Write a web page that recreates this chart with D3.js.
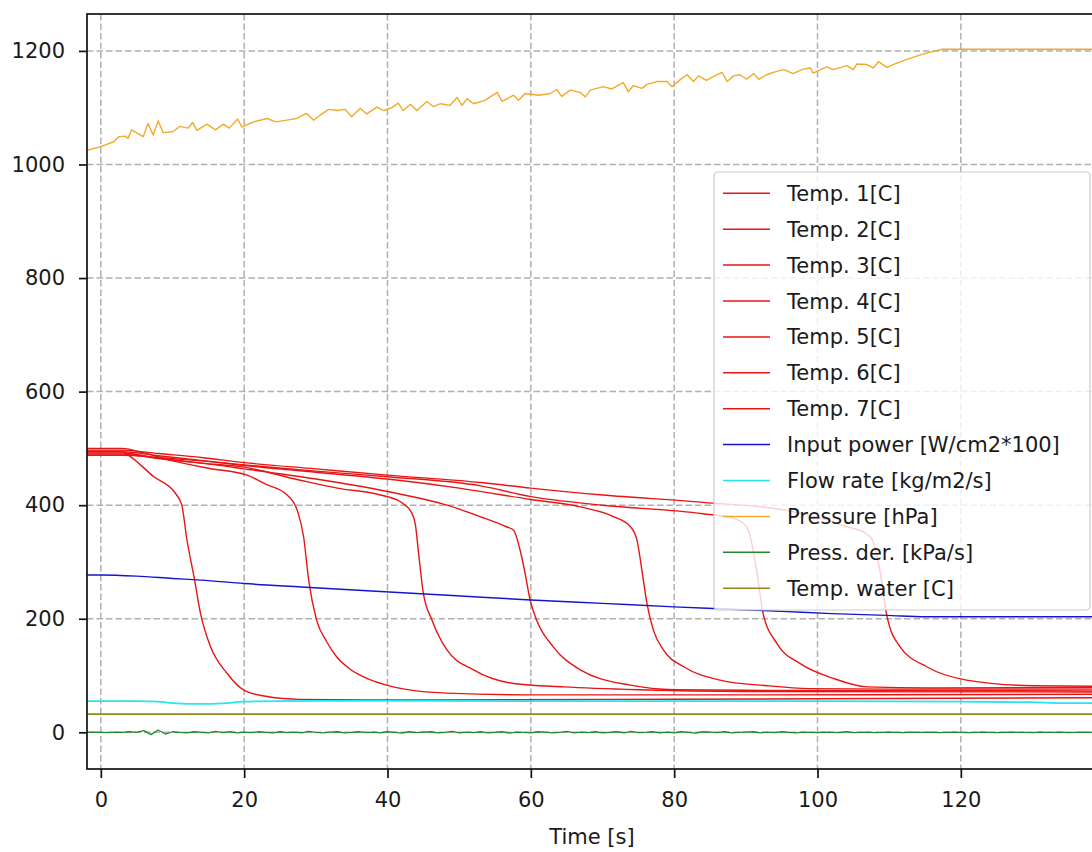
<!DOCTYPE html>
<meta charset="utf-8">
<style>
  body { margin: 0; background: #fff; }
  svg { display: block; font-family: "DejaVu Sans", sans-serif; }
</style>
<svg width="1092" height="852"></svg>
<script src="https://cdn.jsdelivr.net/npm/d3@7"></script>
<script>

// tick values
var xTicks = [0, 20, 40, 60, 80, 100, 120];
var yTicks = [0, 200, 400, 600, 800, 1000, 1200];

// legend labels and colours, in plotting order
var seriesNames = ["Temp. 1[C]", "Temp. 2[C]", "Temp. 3[C]", "Temp. 4[C]", "Temp. 5[C]", "Temp. 6[C]", "Temp. 7[C]",
  "Input power [W/cm2*100]", "Flow rate [kg/m2/s]", "Pressure [hPa]", "Press. der. [kPa/s]", "Temp. water [C]"];
var seriesColors = ["#e81515", "#e81515", "#e81515", "#e81515", "#e81515", "#e81515", "#e81515",
  "#1515d0", "#22e6f0", "#f2aa2a", "#1f8a2a", "#8a8a1a"];

// temperatures [time s, value]
var temp1 = [[-1.9,495],[3,495],[4.1,486],[7.4,450],[10.4,421],[11.3,400],[12,340],[13,274],[13.9,210],[15.3,151],[17.6,104],[20,74],[23.2,63],[27.8,58],[40,57],[70,58],[100,59],[139,61]];
var temp2 = [[-1.9,500],[3,500],[6,492],[10,478],[15,465],[20.4,453],[23,437],[26,418],[27.4,391],[28.3,344],[29,268],[30.1,198],[31.5,160],[32.9,133],[34.7,112],[36.6,98],[40.8,80],[44,73],[48.3,69],[60,66],[90,66],[139,67]];
var temp3 = [[-1.9,492],[3,492],[8,483],[14,474],[20,467],[27.8,444],[33,430],[39,418],[41.8,406],[43.4,386],[43.9,365],[44.3,320],[45,245],[46.2,198],[48.3,145],[52,110],[57.6,86],[64.6,80],[75,75],[90,72],[139,71]];
var temp4 = [[-1.9,490],[3,490],[8,482],[14,474],[20,464],[30,446],[40,424],[48.3,400],[52.9,380],[56.6,362],[57.6,356],[58.5,321],[59.2,280],[59.9,233],[60.8,198],[63.1,151],[66.9,110],[73.9,83],[80,75],[90,74],[139,73]];
var temp5 = [[-1.9,494],[3,494],[8,487],[14,479],[20,470],[30,458],[40,446],[50,430],[60,410],[66.9,397],[71.5,380],[73.9,362],[74.8,339],[75.7,268],[76.2,227],[77.1,180],[78.5,145],[81.4,115],[86.4,92],[93,82],[98.9,77],[110,76],[139,76]];
var temp6 = [[-1.9,488],[3,488],[8,484],[14,478],[20,471],[30,460],[40,450],[53,434],[60,415],[70,400],[84,385],[88.3,377],[90.1,362],[90.6,345],[91.5,286],[92.4,210],[94.3,157],[97.6,121],[102.2,95],[106.9,80],[115.6,78],[139,79]];
var temp7 = [[-1.9,497],[3,497],[8,491],[14,484],[20,475],[30,464],[40,453],[53,440],[60,430],[70,418],[84,405],[96,390],[101,375],[104.1,362],[106.5,352],[107.6,340],[108.7,286],[109.7,204],[111.5,151],[115.3,115],[120.8,92],[130,82],[139,81]];

var inputPower = [[-1.9,277],[0,277],[5,275],[10,271],[14,268],[20,262],[28,256],[39,248],[49,241],[60,233],[70,227],[80,221],[85.5,218],[95,213],[102,209],[109.7,206],[115,203.5],[139,203.5]];
var flowRate = [[-1.9,55],[5,55],[8,54],[10,51.5],[14,50],[17,51],[20,54],[25,55],[40,55.5],[60,55],[80,55],[100,55],[120,54],[130,53],[134,51.5],[139,51.5]];
var pressure = [[-1.9,1025],[-0.1,1031],[1.8,1040],[2.5,1049],[3.4,1050],[3.8,1046],[4.3,1061],[5.9,1049],[6.6,1072],[7.3,1052],[8.0,1077],[8.7,1056],[10.1,1058],[11,1067],[12.2,1064],[12.8,1074],[13.4,1060],[14.8,1071],[16,1061],[17.1,1071],[17.9,1064],[19.1,1080],[19.7,1066],[21.3,1075],[23.2,1081],[24.4,1075],[26.4,1079],[27.3,1081],[28.7,1090],[29.7,1078],[30.6,1087],[31.8,1097],[33,1095],[34.1,1097],[35,1084],[36.2,1099],[37.1,1089],[38.5,1101],[39.5,1095],[40.6,1100],[41.5,1108],[42.2,1095],[43.2,1106],[44.1,1095],[45.5,1111],[46.4,1102],[47.4,1107],[48.7,1104],[49.7,1118],[50.4,1104],[51.1,1116],[52,1107],[53.6,1113],[55.3,1127],[56,1111],[57.6,1122],[58.3,1113],[59.2,1125],[61.1,1122],[62.7,1125],[63.6,1132],[64.3,1120],[65.5,1131],[66.9,1127],[67.6,1119],[68.3,1131],[70.1,1137],[71.3,1133],[72.9,1144],[73.6,1128],[74.3,1139],[75.5,1134],[76.2,1141],[77.6,1146],[79,1146],[79.7,1137],[80.8,1149],[81.8,1158],[82.7,1146],[83.4,1156],[84.5,1148],[85.5,1155],[86.7,1162],[87.4,1146],[88.3,1156],[89.2,1158],[90.1,1150],[91.1,1160],[91.8,1150],[92.9,1158],[94.3,1164],[95.3,1167],[96.6,1160],[98,1168],[99,1170],[99.4,1161],[100.4,1167],[101.3,1172],[102.2,1167],[104.1,1174],[105,1167],[105.5,1177],[106.9,1176],[107.8,1170],[108.5,1181],[109.7,1171],[110.8,1177],[112,1183],[113.4,1189],[115.2,1196],[117.4,1203],[139,1203]];
// pressure derivative, one value per second starting at t = -2
var pressDerStart = -2;
var pressDer = [0,0.5,0,-0.5,0.5,0,1,0,3,-4,4,-3,1,0,-1,1,0,-1,1.5,-0.5,1,-1,0.5,
  -0.5,1,0,-1,1,-0.5,0.5,-1,1.5,0,-1,0.5,1,-1,0,1,-0.5,0.5,-1,1,0,-1.5,1,-0.5,0.5,
  1,-1,0,1.5,-1,0.5,-0.5,1,-1,0,1,-1.5,0.5,0,-1,1,0.5,-1,0,1.5,-1,0.5,-0.5,1,-1,
  0,1,-1,1.5,-0.5,0,1,-1,0.5,-1,1,0,-1.5,1,0.5,-0.5,1,-1,0,0.5,1,-1,0.5,-0.5,1,
  0,-1,0.5,0,-0.5,0.5,0,-0.5,1,-0.5,0,0.5,-0.5,0,0.5,0,-0.5,0.5,0,0,0.5,-0.5,0,
  0.5,0,-0.5,0,0.5,0,-0.5,0,0.5,0,0,-0.5,0.5,0,0,0.5,-0.5,0,0.5,0,-0.5,0,0.5,0,0];
var waterTemp = [[-1.9,32],[139,32]];

var svg = d3.select("svg");
var pLeft = 87, pRight = 1097, pTop = 14, pBottom = 769;

var x = d3.scaleLinear().domain([-1.93, 139]).range([pLeft, pRight]);
var y = d3.scaleLinear().domain([-64.6, 1265]).range([pBottom, pTop]);

svg.append("defs").append("clipPath").attr("id", "plotclip")
  .append("rect").attr("x", pLeft).attr("y", pTop).attr("width", pRight - pLeft).attr("height", pBottom - pTop);

// grid
var grid = svg.append("g").attr("stroke", "#b0b0b0").attr("stroke-width", 1.5).attr("stroke-dasharray", "6.5,3");
grid.selectAll(".gx").data(xTicks).enter().append("line")
  .attr("x1", d => x(d)).attr("x2", d => x(d)).attr("y1", pTop).attr("y2", pBottom);
grid.selectAll(".gy").data(yTicks).enter().append("line")
  .attr("x1", pLeft).attr("x2", pRight).attr("y1", d => y(d)).attr("y2", d => y(d));

var smooth = d3.line().x(d => x(d[0])).y(d => y(d[1])).curve(d3.curveMonotoneX);
var straight = d3.line().x(d => x(d[0])).y(d => y(d[1]));

var pressDerPts = pressDer.map((v, i) => [pressDerStart + i, v]);

var plot = svg.append("g").attr("clip-path", "url(#plotclip)").attr("fill", "none");
var series = [
  {d: temp1, l: smooth, w: 1.4}, {d: temp2, l: smooth, w: 1.4}, {d: temp3, l: smooth, w: 1.4},
  {d: temp4, l: smooth, w: 1.4}, {d: temp5, l: smooth, w: 1.4}, {d: temp6, l: smooth, w: 1.4},
  {d: temp7, l: smooth, w: 1.4},
  {d: inputPower, l: smooth, w: 1.4}, {d: flowRate, l: smooth, w: 1.8},
  {d: pressure, l: straight, w: 1.4}, {d: pressDerPts, l: straight, w: 1.3},
  {d: waterTemp, l: straight, w: 1.6}
];
series.forEach(function(s, i) {
  plot.append("path").attr("d", s.l(s.d))
    .attr("stroke", seriesColors[i]).attr("stroke-width", s.w).attr("stroke-linejoin", "round");
});

// axes
var fs = "21px";
var yAxis = svg.append("g").attr("transform", "translate(" + pLeft + ",0)")
  .call(d3.axisLeft(y).tickValues(yTicks).tickSize(8).tickPadding(14).tickFormat(d3.format("d")));
var xAxis = svg.append("g").attr("transform", "translate(0," + pBottom + ")")
  .call(d3.axisBottom(x).tickValues(xTicks).tickSize(9).tickPadding(14).tickFormat(d3.format("d")));
[xAxis, yAxis].forEach(function(a) {
  a.select(".domain").remove();
  a.selectAll("line").attr("stroke", "#111").attr("stroke-width", 1.7);
  a.selectAll("text").attr("font-size", fs).attr("fill", "#1a1a1a").attr("font-family", "DejaVu Sans, sans-serif");
});

// spines
var spines = svg.append("g").attr("stroke", "#111").attr("stroke-width", 1.7).attr("fill", "none");
spines.append("rect").attr("x", pLeft).attr("y", pTop).attr("width", pRight - pLeft).attr("height", pBottom - pTop);

svg.append("text").attr("x", (pLeft + pRight) / 2).attr("y", 844)
  .attr("text-anchor", "middle").attr("font-size", fs).attr("fill", "#1a1a1a").text("Time [s]");

// legend
var lg = svg.append("g");
lg.append("rect").attr("x", 714).attr("y", 172).attr("width", 376).attr("height", 438).attr("rx", 4)
  .attr("fill", "#fff").attr("fill-opacity", 0.8).attr("stroke", "#cccccc").attr("stroke-width", 1.2);
var rows = lg.selectAll(".row").data(seriesNames).enter().append("g")
  .attr("transform", (d, i) => "translate(0," + (193.3 + i * 35.9) + ")");
rows.append("line").attr("x1", 723).attr("x2", 770).attr("y1", 0).attr("y2", 0)
  .attr("stroke", (d, i) => seriesColors[i]).attr("stroke-width", 1.5);
rows.append("text").attr("x", 787).attr("dy", "0.36em").attr("font-size", fs).attr("fill", "#1a1a1a").text(d => d);

</script>
